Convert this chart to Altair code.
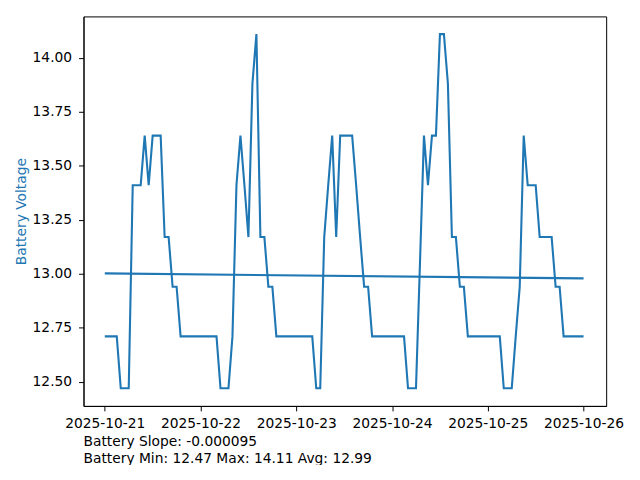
import altair as alt
import numpy as np
import pandas as pd

start = "2025-10-21T00:00:00"

# Hourly battery voltage readings, one list per day
day_2025_10_21 = [12.71, 12.71, 12.71, 12.71, 12.47, 12.47, 12.47, 13.41, 13.41, 13.41, 13.64, 13.41,
                  13.64, 13.64, 13.64, 13.17, 13.17, 12.94, 12.94, 12.71, 12.71, 12.71, 12.71, 12.71]
day_2025_10_22 = [12.71, 12.71, 12.71, 12.71, 12.71, 12.47, 12.47, 12.47, 12.71, 13.41, 13.64, 13.41,
                  13.17, 13.88, 14.11, 13.17, 13.17, 12.94, 12.94, 12.71, 12.71, 12.71, 12.71, 12.71]
day_2025_10_23 = [12.71, 12.71, 12.71, 12.71, 12.71, 12.47, 12.47, 13.17, 13.41, 13.64, 13.17, 13.64,
                  13.64, 13.64, 13.64, 13.41, 13.17, 12.94, 12.94, 12.71, 12.71, 12.71, 12.71, 12.71]
day_2025_10_24 = [12.71, 12.71, 12.71, 12.71, 12.47, 12.47, 12.47, 13.05, 13.64, 13.41, 13.64, 13.64,
                  14.11, 14.11, 13.88, 13.17, 13.17, 12.94, 12.94, 12.71, 12.71, 12.71, 12.71, 12.71]
day_2025_10_25 = [12.71, 12.71, 12.71, 12.71, 12.47, 12.47, 12.47, 12.71, 12.94, 13.64, 13.41, 13.41,
                  13.41, 13.17, 13.17, 13.17, 13.17, 12.94, 12.94, 12.71, 12.71, 12.71, 12.71, 12.71]
day_2025_10_26 = [12.71]

voltage = (day_2025_10_21 + day_2025_10_22 + day_2025_10_23 +
           day_2025_10_24 + day_2025_10_25 + day_2025_10_26)
times = pd.date_range(start, periods=len(voltage), freq="h").strftime("%Y-%m-%dT%H:%M:%S").tolist()

tick_days = [21, 22, 23, 24, 25, 26]
y_ticks = [12.50, 12.75, 13.00, 13.25, 13.50, 13.75, 14.00]
y_domain = [12.388, 14.192]

slope_text = ["Battery Slope: -0.000095"]
stats_text = ["Battery Min: 12.47 Max: 14.11 Avg: 12.99"]

blue = "#1f77b4"
font = "DejaVu Sans"
fs = 13.9

df = pd.DataFrame({"time": times, "voltage": voltage})

# least-squares trend of the series (per sample), evaluated at its two ends
idx = np.arange(len(voltage))
slope, intercept = np.polyfit(idx, np.array(voltage), 1)
trend_df = pd.DataFrame({
    "time": [times[0], times[-1]],
    "voltage": [intercept, intercept + slope * idx[-1]],
})

x_enc = alt.X(
    "time:T",
    scale=alt.Scale(domain=[
        alt.DateTime(year=2025, month=10, date=20, hours=18, minutes=40),
        alt.DateTime(year=2025, month=10, date=26, hours=5, minutes=40),
    ]),
    axis=alt.Axis(
        values=[alt.DateTime(year=2025, month=10, date=d) for d in tick_days],
        format="%Y-%m-%d", title=None, labelPadding=6, labelFlush=False,
        labelOverlap=False,
    ),
)
y_enc = alt.Y(
    "voltage:Q",
    scale=alt.Scale(domain=y_domain, nice=False, zero=False),
    axis=alt.Axis(
        values=y_ticks, format=".2f", title="Battery Voltage", titleColor=blue,
        titleFontWeight="normal", titleFontSize=fs, titleFont=font,
        titlePadding=4, labelPadding=7,
    ),
)

line = alt.Chart(df).mark_line(color=blue, strokeWidth=2.1).encode(x=x_enc, y=y_enc)
trend = alt.Chart(trend_df).mark_line(color=blue, strokeWidth=2.1).encode(x=x_enc, y=y_enc)

txt1 = alt.Chart(pd.DataFrame({"label": slope_text})).mark_text(
    align="left", baseline="middle", fontSize=fs, font=font, color="black"
).encode(x=alt.value(0), y=alt.value(428.5), text="label:N")
txt2 = alt.Chart(pd.DataFrame({"label": stats_text})).mark_text(
    align="left", baseline="middle", fontSize=fs, font=font, color="black"
).encode(x=alt.value(0), y=alt.value(445), text="label:N")

chart = (
    alt.layer(line, trend, txt1, txt2)
    .properties(
        width=526, height=392,
        autosize=alt.AutoSizeParams(type="none"),
        padding={"left": 76, "top": 7, "right": 26, "bottom": 58},
    )
    .configure_view(stroke="black", strokeWidth=1)
    .configure_axis(
        grid=False, domainColor="black", tickColor="black", labelColor="black",
        labelFont=font, labelFontSize=fs, tickSize=5, tickWidth=1, domainWidth=1,
    )
)

chart.save("out.html", embed_options={"renderer": "svg", "actions": False})
